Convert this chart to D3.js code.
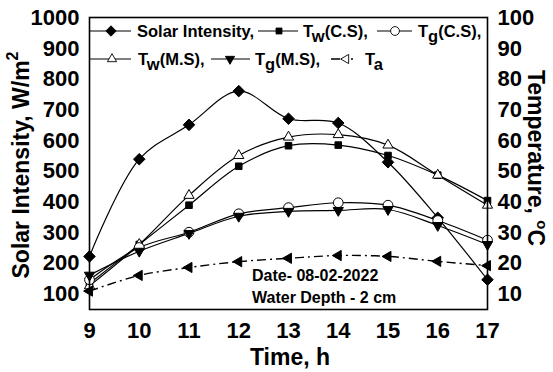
<!DOCTYPE html>
<html>
<head>
<meta charset="utf-8">
<script src="https://cdn.jsdelivr.net/npm/d3@7"></script>
<style>
  body { margin: 0; background: #fff; }
  text { font-family: "Liberation Sans", Arial, sans-serif; font-weight: bold; fill: #000; }
</style>
</head>
<body>
<svg id="chart" width="553" height="372"></svg>
<script>
// hours of the day
const hours = [9, 10, 11, 12, 13, 14, 15, 16, 17]

// solar intensity, W/m2 (left axis)
const solar = [221, 538, 650, 760, 670, 656, 528, 347, 145]

// temperatures, deg C (right axis)
const twCS = [13.3, 26, 38.8, 51.5, 58.2, 58.4, 55, 48.6, 40.3]
const twMS = [12.5, 26, 42, 55, 61, 61.8, 58.4, 48.6, 38.8]
const tgCS = [14.5, 25, 30, 36, 38, 39.6, 38.8, 33.8, 27.4]
const tgMS = [16, 23.8, 29.6, 35.2, 36.8, 37.1, 37.4, 32.2, 26]
const ta   = [10.8, 15.9, 18.5, 20.4, 21.5, 22.4, 22.1, 20.5, 19.1]

const leftTicks = [100, 200, 300, 400, 500, 600, 700, 800, 900, 1000]
const rightTicks = [10, 20, 30, 40, 50, 60, 70, 80, 90, 100]

const svg = d3.select("#chart")
const pLeft = 89.5, pRight = 487.5, pTop = 17.5, pBottom = 309.5

const x = d3.scaleLinear().domain([9, 17]).range([pLeft, pRight])
const yL = d3.scaleLinear().domain([48, 1000]).range([pBottom, pTop])
const yR = d3.scaleLinear().domain([4.8, 100]).range([pBottom, pTop])

// marker shapes
const sym = {
  diamond: d3.symbol().type(d3.symbolDiamond2).size(85),
  square: d3.symbol().type(d3.symbolSquare2).size(55),
  circle: d3.symbol().type(d3.symbolCircle).size(75),
  triUp: d3.symbol().type(d3.symbolTriangle2).size(75),
  triDown: d3.symbol().type(d3.symbolTriangle2).size(75),
  triLeft: d3.symbol().type(d3.symbolTriangle2).size(75)
}
const rot = { triDown: 180, triLeft: -90 }

const series = [
  { vals: solar, y: yL, shape: "diamond", fill: "#000" },
  { vals: twCS, y: yR, shape: "square", fill: "#000" },
  { vals: twMS, y: yR, shape: "triUp", fill: "#fff" },
  { vals: tgCS, y: yR, shape: "circle", fill: "#fff" },
  { vals: tgMS, y: yR, shape: "triDown", fill: "#000" },
  { vals: ta, y: yR, shape: "triLeft", fill: "#000", dash: "9,4,2,4" }
]

function marker(g, shape, fill, cx, cy, scale) {
  g.append("path")
    .attr("d", sym[shape]())
    .attr("transform", `translate(${cx},${cy}) rotate(${rot[shape] || 0}) scale(${scale || 1})`)
    .attr("fill", fill)
    .attr("stroke", "#000")
    .attr("stroke-width", 1)
}

// lines first, then markers on top
const plot = svg.append("g")
for (const s of series) {
  const line = d3.line()
    .x((d, i) => x(hours[i]))
    .y(d => s.y(d))
    .curve(d3.curveCatmullRom.alpha(0.5))
  plot.append("path")
    .attr("d", line(s.vals))
    .attr("fill", "none")
    .attr("stroke", "#000")
    .attr("stroke-width", s.dash ? 1.4 : 1.2)
    .attr("stroke-dasharray", s.dash || null)
}
for (const s of series) {
  s.vals.forEach((v, i) => marker(plot, s.shape, s.fill, x(hours[i]), s.y(v)))
}

// frame
svg.append("rect")
  .attr("x", pLeft).attr("y", pTop)
  .attr("width", pRight - pLeft).attr("height", pBottom - pTop)
  .attr("fill", "none").attr("stroke", "#000").attr("stroke-width", 1.6)

// tick labels
const tickFont = "22px"
svg.append("g").selectAll("text").data(leftTicks).join("text")
  .attr("x", pLeft - 10).attr("y", d => yL(d))
  .attr("text-anchor", "end").attr("dominant-baseline", "central")
  .style("font-size", tickFont).text(d => d)
svg.append("g").selectAll("text").data(rightTicks).join("text")
  .attr("x", pRight + 10).attr("y", d => yR(d))
  .attr("dominant-baseline", "central")
  .style("font-size", tickFont).text(d => d)
svg.append("g").selectAll("text").data(hours).join("text")
  .attr("x", d => x(d)).attr("y", 330)
  .attr("text-anchor", "middle").attr("dominant-baseline", "central")
  .style("font-size", tickFont).text(d => d)

// axis titles
svg.append("text")
  .attr("x", 290).attr("y", 357)
  .attr("text-anchor", "middle").attr("dominant-baseline", "central")
  .style("font-size", "23px").text("Time, h")

const lt = svg.append("text")
  .attr("transform", "translate(21,165) rotate(-90)")
  .attr("text-anchor", "middle").attr("dominant-baseline", "central")
  .style("font-size", "23px")
lt.append("tspan").text("Solar Intensity, W/m")
lt.append("tspan").attr("dy", -9).style("font-size", "16px").text("2")

const rt = svg.append("text")
  .attr("transform", "translate(536,158) rotate(90)")
  .attr("text-anchor", "middle").attr("dominant-baseline", "central")
  .style("font-size", "23px")
rt.append("tspan").text("Temperature, ")
rt.append("tspan").attr("dy", -7).style("font-size", "15px").text("o")
rt.append("tspan").attr("dy", 7).text("C")

// annotations
svg.append("text").attr("x", 252).attr("y", 275)
  .attr("dominant-baseline", "central").style("font-size", "16px").text("Date- 08-02-2022")
svg.append("text").attr("x", 252).attr("y", 297)
  .attr("dominant-baseline", "central").style("font-size", "16px").text("Water Depth - 2 cm")

// legend
const legendItems = [
  { x1: 90, x2: 131, mx: 111, tx: 137, y: 31, shape: "diamond", fill: "#000", main: "Solar Intensity," },
  { x1: 258, x2: 298, mx: 279, tx: 303, y: 31, shape: "square", fill: "#000", main: "T", sub: "w", rest: "(C.S)," },
  { x1: 377, x2: 412, mx: 395, tx: 418, y: 31, shape: "circle", fill: "#fff", main: "T", sub: "g", rest: "(C.S)," },
  { x1: 90, x2: 131, mx: 112, tx: 138, y: 59, shape: "triUp", fill: "#fff", main: "T", sub: "w", rest: "(M.S)," },
  { x1: 211, x2: 250, mx: 230, tx: 255, y: 59, shape: "triDown", fill: "#000", main: "T", sub: "g", rest: "(M.S)," },
  { x1: 331, x2: 356, mx: 346, tx: 365, y: 59, shape: "triLeft", fill: "#fff", main: "T", sub: "a", rest: "", dash: "9,11,2,20" }
]
const lg = svg.append("g")
for (const it of legendItems) {
  lg.append("line")
    .attr("x1", it.x1).attr("x2", it.x2).attr("y1", it.y).attr("y2", it.y)
    .attr("stroke", "#000").attr("stroke-width", it.dash ? 1.4 : 1.1)
    .attr("stroke-dasharray", it.dash || null)
  marker(lg, it.shape, it.fill, it.mx, it.y, 0.9)
  const t = lg.append("text")
    .attr("x", it.tx).attr("y", it.y)
    .attr("dominant-baseline", "central").style("font-size", "16.5px")
  t.append("tspan").text(it.main)
  if (it.sub) {
    t.append("tspan").attr("dy", 5).style("font-size", "16.5px").text(it.sub)
    if (it.rest) t.append("tspan").attr("dy", -5).text(it.rest)
  }
}
</script>
</body>
</html>
